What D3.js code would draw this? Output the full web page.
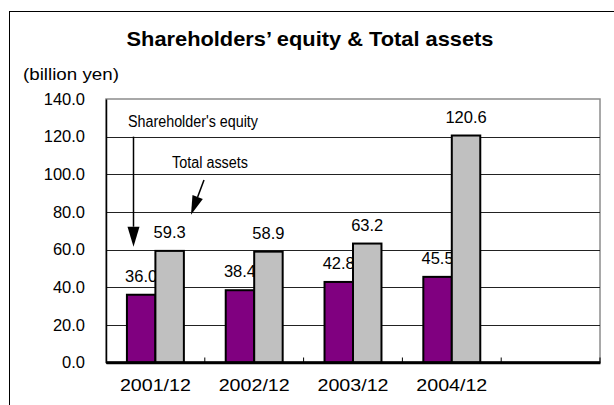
<!DOCTYPE html>
<html>
<head>
<meta charset="utf-8">
<script src="https://cdn.jsdelivr.net/npm/d3@7"></script>
<style>
  body { margin: 0; background: #fff; }
  text { font-family: "Liberation Sans", Arial, sans-serif; }
</style>
</head>
<body>
<div id="chart"></div>
<script>
// chart data
const categories = ["2001/12", "2002/12", "2003/12", "2004/12"];
const equity = [36.0, 38.4, 42.8, 45.5];
const assets = [59.3, 58.9, 63.2, 120.6];
const yTicks = [0, 20, 40, 60, 80, 100, 120, 140];

const c_purple = "#800080";
const c_gray = "#c0c0c0";

var width = 614,
  height = 405,
  plotLeft = 106,
  plotRight = 600,
  plotTop = 99,
  plotBottom = 362.5;

var svg = d3.select("#chart")
  .append("svg")
  .attr("width", width)
  .attr("height", height);

// outer chart border (runs off the picture right and bottom)
svg.append("rect")
  .attr("x", 9.5).attr("y", 11.5)
  .attr("width", 700).attr("height", 500)
  .attr("fill", "none").attr("stroke", "#000").attr("stroke-width", 1);

// title
svg.append("text")
  .attr("x", 310).attr("y", 46)
  .attr("text-anchor", "middle")
  .attr("font-size", 21).attr("font-weight", "bold")
  .attr("textLength", 367).attr("lengthAdjust", "spacingAndGlyphs")
  .text("Shareholders\u2019 equity & Total assets");

svg.append("text")
  .attr("x", 23).attr("y", 80)
  .attr("font-size", 17)
  .attr("textLength", 96).attr("lengthAdjust", "spacingAndGlyphs")
  .text("(billion yen)");

// scales - one empty slot after the last year
var x = d3.scaleBand()
  .domain(categories.concat(["_blank"]))
  .range([plotLeft, plotRight]);

var x1 = d3.scaleBand()
  .domain(["equity", "assets"])
  .range([0, x.bandwidth()])
  .paddingOuter(0.735);

var y = d3.scaleLinear()
  .domain([0, 140])
  .range([plotBottom, plotTop]);

// plot frame
svg.append("rect")
  .attr("x", plotLeft).attr("y", plotTop)
  .attr("width", plotRight - plotLeft).attr("height", plotBottom - plotTop)
  .attr("fill", "#fff").attr("stroke", "#8c8c8c").attr("stroke-width", 1.5);

// gridlines
svg.append("g")
  .selectAll("line")
  .data(yTicks.filter(d => d > 0 && d < 140))
  .enter().append("line")
  .attr("x1", plotLeft).attr("x2", plotRight)
  .attr("y1", d => Math.round(y(d)) + 0.5).attr("y2", d => Math.round(y(d)) + 0.5)
  .attr("stroke", "#222").attr("stroke-width", 1);

// y axis
var yAxis = svg.append("g")
  .attr("transform", "translate(" + plotLeft + ",0)")
  .call(d3.axisLeft(y).tickValues(yTicks).tickFormat(d3.format(".1f")).tickSize(0).tickPadding(21));
yAxis.select(".domain").attr("stroke", "#000").attr("stroke-width", 1.5);
yAxis.selectAll("text").attr("font-size", 16.5).attr("fill", "#000")
  .attr("font-family", "Liberation Sans, Arial, sans-serif");

// x axis
var xAxis = svg.append("g")
  .attr("transform", "translate(0," + plotBottom + ")")
  .call(d3.axisBottom(x).tickSize(0).tickPadding(16).tickFormat(d => d === "_blank" ? "" : d));
xAxis.select(".domain").attr("stroke", "#000").attr("stroke-width", 2.5);
xAxis.selectAll("text").attr("font-size", 17).attr("fill", "#000")
  .attr("font-family", "Liberation Sans, Arial, sans-serif")
  .attr("textLength", d => d === "_blank" ? null : 71)
  .attr("lengthAdjust", "spacingAndGlyphs");

// tick marks between categories, pointing up
svg.append("g")
  .selectAll("line")
  .data(x.domain().slice(1).concat(["end"]))
  .enter().append("line")
  .attr("x1", d => d === "end" ? plotRight : x(d))
  .attr("x2", d => d === "end" ? plotRight : x(d))
  .attr("y1", plotBottom).attr("y2", plotBottom - 5)
  .attr("stroke", "#000").attr("stroke-width", 1);

// equity bars and their labels (labels sit under the asset bars)
svg.append("g")
  .selectAll("rect")
  .data(equity)
  .enter().append("rect")
  .attr("x", (d, i) => x(categories[i]) + x1("equity"))
  .attr("y", d => y(d))
  .attr("width", x1.bandwidth())
  .attr("height", d => y(0) - y(d))
  .attr("fill", c_purple).attr("stroke", "#000").attr("stroke-width", 2);

svg.append("g")
  .selectAll("text")
  .data(equity)
  .enter().append("text")
  .attr("x", (d, i) => x(categories[i]) + x1("equity") + x1.bandwidth() / 2)
  .attr("y", d => y(d) - 13)
  .attr("text-anchor", "middle")
  .attr("font-size", 16.5)
  .text(d => d.toFixed(1));

svg.append("g")
  .selectAll("rect")
  .data(assets)
  .enter().append("rect")
  .attr("x", (d, i) => x(categories[i]) + x1("assets"))
  .attr("y", d => y(d))
  .attr("width", x1.bandwidth())
  .attr("height", d => y(0) - y(d))
  .attr("fill", c_gray).attr("stroke", "#000").attr("stroke-width", 2);

svg.append("g")
  .selectAll("text")
  .data(assets)
  .enter().append("text")
  .attr("x", (d, i) => x(categories[i]) + x1("assets") + x1.bandwidth() / 2)
  .attr("y", d => y(d) - 13)
  .attr("text-anchor", "middle")
  .attr("font-size", 16.5)
  .text(d => d.toFixed(1));

// replot baseline over bar bottoms
svg.append("line")
  .attr("x1", plotLeft).attr("x2", plotRight)
  .attr("y1", plotBottom).attr("y2", plotBottom)
  .attr("stroke", "#000").attr("stroke-width", 2.5);

// annotations with arrows
function arrow(x1, y1, x2, y2, headLen, headHalf) {
  var dx = x2 - x1, dy = y2 - y1,
    len = Math.sqrt(dx * dx + dy * dy),
    ux = dx / len, uy = dy / len;
  var bx = x2 - ux * headLen, by = y2 - uy * headLen;
  svg.append("line")
    .attr("x1", x1).attr("y1", y1)
    .attr("x2", bx).attr("y2", by)
    .attr("stroke", "#000").attr("stroke-width", 1.5);
  svg.append("path")
    .attr("d", "M" + x2 + "," + y2 +
      " L" + (bx - uy * headHalf) + "," + (by + ux * headHalf) +
      " L" + (bx + uy * headHalf) + "," + (by - ux * headHalf) + " Z")
    .attr("fill", "#000");
}

var x0 = x(categories[0]);

svg.append("text")
  .attr("x", x0 + 22).attr("y", 127)
  .attr("font-size", 16)
  .attr("textLength", 130).attr("lengthAdjust", "spacingAndGlyphs")
  .text("Shareholder's equity");

arrow(x0 + 27.5, y(120), x0 + 27.5, y(61.5), 20, 6);

svg.append("text")
  .attr("x", x0 + 66).attr("y", 168)
  .attr("font-size", 16)
  .attr("textLength", 76).attr("lengthAdjust", "spacingAndGlyphs")
  .text("Total assets");

arrow(x0 + 98, y(97), x0 + 85, y(78.5), 19, 5.5);
</script>
</body>
</html>
